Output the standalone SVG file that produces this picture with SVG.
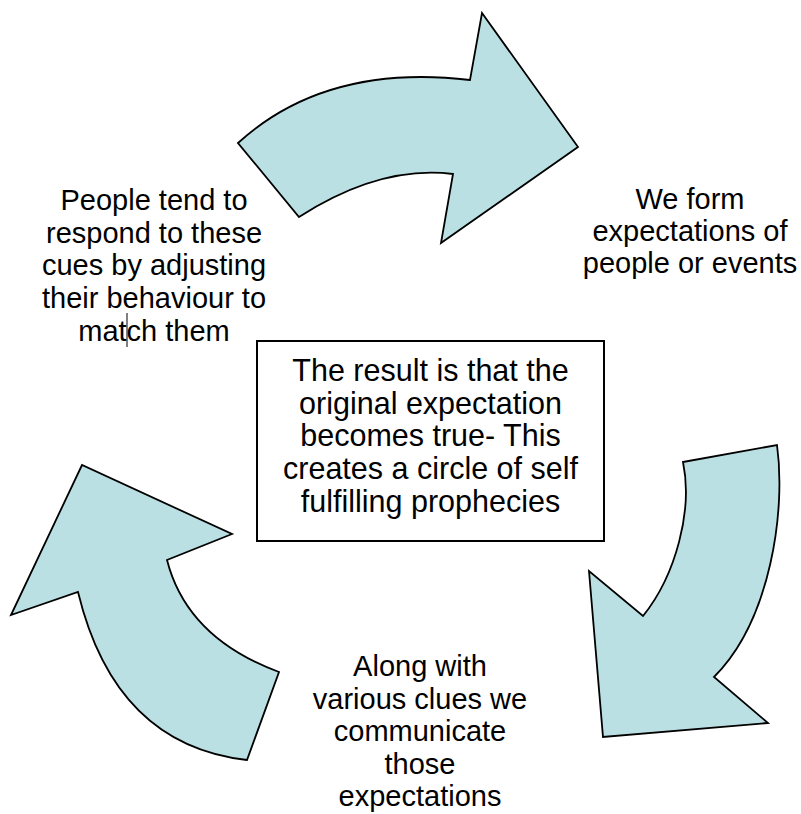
<svg xmlns="http://www.w3.org/2000/svg" width="801" height="814" viewBox="0 0 801 814">
<style>
.arrow{fill:#bae0e3;stroke:#000;stroke-width:1.8;stroke-linejoin:miter}
.lbl{font-family:"Liberation Sans",Arial,sans-serif;font-size:29px;fill:#000;text-anchor:middle}
.box{font-size:30.5px}
</style>
<rect width="801" height="814" fill="#fff"/>
<g id="connectors">
<path class="arrow" d="M238,143 Q326,63 470,80 L482,13 L578,147 L441,243 L453,174 Q380,165 299,217 Z"/>
<path class="arrow" d="M683,462 L777,445 C786,510 771,620 714,677 L768,723 L603,737 L589,571 L643,616 C676,575 693,510 683,462 Z"/>
<path class="arrow" d="M247,760 L279,672 Q187,638 167,560 L232,534 L82,465 L11,615 L78,592 Q115,745 247,760 Z"/>
</g>
<g id="node-form">
<text class="lbl" x="690" y="209">We form</text>
<text class="lbl" x="690" y="241">expectations of</text>
<text class="lbl" x="690" y="273">people or events</text>
</g>
<g id="node-communicate">
<text class="lbl" x="420" y="676">Along with</text>
<text class="lbl" x="420" y="709">various clues we</text>
<text class="lbl" x="420" y="741">communicate</text>
<text class="lbl" x="420" y="774">those</text>
<text class="lbl" x="420" y="806">expectations</text>
</g>
<g id="node-respond">
<text class="lbl" x="154" y="210">People tend to</text>
<text class="lbl" x="154" y="243">respond to these</text>
<text class="lbl" x="154" y="275">cues by adjusting</text>
<text class="lbl" x="154" y="308">their behaviour to</text>
<text class="lbl" x="154" y="341">match them</text>
<line x1="127" y1="313" x2="127" y2="347" stroke="#000" stroke-width="1"/>
</g>
<g id="node-result">
<rect x="257" y="341" width="347" height="200" fill="#fff" stroke="#000" stroke-width="2"/>
<text class="lbl box" x="430.5" y="381">The result is that the</text>
<text class="lbl box" x="430.5" y="414">original expectation</text>
<text class="lbl box" x="430.5" y="446">becomes true- This</text>
<text class="lbl box" x="430.5" y="479">creates a circle of self</text>
<text class="lbl box" x="430.5" y="512">fulfilling prophecies</text>
</g>
</svg>
